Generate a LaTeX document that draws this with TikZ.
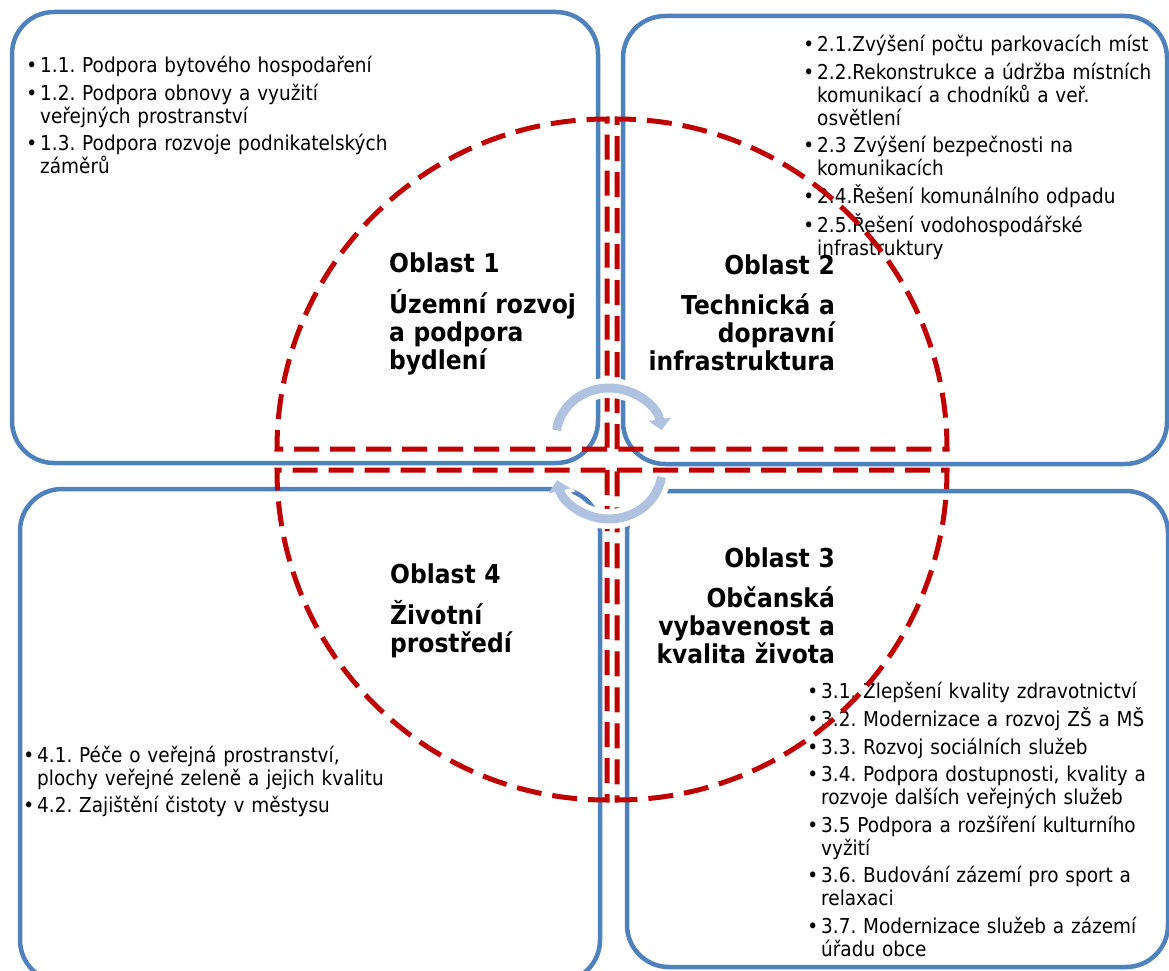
\documentclass[tikz,border=0pt]{standalone}
\usepackage{fontspec}
\setmainfont{DejaVu Sans}[FakeStretch=0.9]
\usetikzlibrary{backgrounds}
\usetikzlibrary{arrows.meta}
\definecolor{frameblue}{HTML}{4F81BD}
\definecolor{piered}{HTML}{C00000}
\definecolor{ringblue}{HTML}{AFC2DF}
\setlength\parindent{0pt}
\frenchspacing
\newcommand\bul{\leavevmode\llap{\textbullet\hspace{3pt}}}

\begin{document}
\begin{tikzpicture}[
    x=1pt, y=-1pt,
    show background rectangle,
    tight background=0,
    background rectangle/.style={fill=white},
    quad/.style={draw=frameblue, line width=4.5pt, rounded corners=42pt},
    pie/.style={draw=piered, line width=5pt, dash pattern=on 25pt off 11pt},
    oblast/.style={inner sep=0pt, text width=260pt,
        font=\bfseries\fontsize{26}{28}\selectfont},
    items/.style={inner sep=0pt, text width=360pt, align=left,
        font=\fontsize{20.5}{23}\selectfont},
 ]
    \useasboundingbox (0,0) rectangle (1169,971);

    % the four quadrants
    \draw[quad] (12,12) rectangle (598,463);
    \draw[quad] (623,16) rectangle (1167,464);
    \draw[quad] (20,489) rectangle (600,982);
    \draw[quad] (627,491) rectangle (1168,967);

    \node[oblast, align=left, anchor=base west] (T1) at (389,272)
        {Oblast 1\\[13pt] Územní rozvoj\\ a podpora\\ bydlení};
    \node[oblast, align=right, anchor=base east] (T2) at (835,274)
        {Oblast 2\\[12pt] Technická a\\ dopravní\\ infrastruktura};
    \node[oblast, align=right, anchor=base east] (T3) at (835,567)
        {Oblast 3\\[12pt] Občanská\\ vybavenost a\\ kvalita života};
    \node[oblast, align=left, anchor=base west] (T4) at (390,583)
        {Oblast 4\\[13pt] Životní\\ prostředí};

    \node[items, anchor=base west] (L1) at (40,73) {%
        \bul 1.1. Podpora bytového hospodaření\\[4.5pt]
        \bul 1.2. Podpora obnovy a využití\\ veřejných prostranství\\[4.5pt]
        \bul 1.3. Podpora rozvoje podnikatelských\\ záměrů};
    \node[items, anchor=base west] (L2) at (817,52) {%
        \bul 2.1.Zvýšení počtu parkovacích míst\\[4.5pt]
        \bul 2.2.Rekonstrukce a údržba místních\\ komunikací a chodníků a veř.\\ osvětlení\\[4.5pt]
        \bul 2.3 Zvýšení bezpečnosti na\\ komunikacích\\[4.5pt]
        \bul 2.4.Řešení komunálního odpadu\\[4.5pt]
        \bul 2.5.Řešení vodohospodářské\\ infrastruktury};
    \node[items, anchor=base west] (L3) at (821,698) {%
        \bul 3.1. Zlepšení kvality zdravotnictví\\[4.5pt]
        \bul 3.2. Modernizace a rozvoj ZŠ a MŠ\\[4.5pt]
        \bul 3.3. Rozvoj sociálních služeb\\[4.5pt]
        \bul 3.4. Podpora dostupnosti, kvality a\\ rozvoje dalších veřejných služeb\\[4.5pt]
        \bul 3.5 Podpora a rozšíření kulturního\\ vyžití\\[4.5pt]
        \bul 3.6. Budování zázemí pro sport a\\ relaxaci\\[4.5pt]
        \bul 3.7. Modernizace služeb a zázemí\\ úřadu obce};
    \node[items, anchor=base west] (L4) at (37,762) {%
        \bul 4.1. Péče o veřejná prostranství,\\ plochy veřejné zeleně a jejich kvalitu\\[4.5pt]
        \bul 4.2. Zajištění čistoty v městysu};

    % dashed quarter pies
    \draw[pie] (607,449) -- (277,449)
        arc[start angle=180, end angle=270, radius=330] -- cycle;
    \draw[pie] (617,449) -- (617,119)
        arc[start angle=270, end angle=360, radius=330] -- cycle;
    \draw[pie] (617,470) -- (947,470)
        arc[start angle=0, end angle=90, radius=330] -- cycle;
    \draw[pie] (607,470) -- (607,800)
        arc[start angle=90, end angle=180, radius=330] -- cycle;

    % circular arrows in the middle
    \draw[white, line width=20pt, -{Triangle[length=15pt, width=30pt]}]
        (609,437) ++(188:53 and 49)
        arc[start angle=188, end angle=352, x radius=53, y radius=49];
    \draw[ringblue, line width=9pt, -{Triangle[length=11pt, width=22pt]}]
        (609,437) ++(188:53 and 49)
        arc[start angle=188, end angle=352, x radius=53, y radius=49];
    \draw[white, line width=20pt, -{Triangle[length=15pt, width=30pt]}]
        (609,470) ++(8:53 and 49)
        arc[start angle=8, end angle=168, x radius=53, y radius=49];
    \draw[ringblue, line width=9pt, -{Triangle[length=11pt, width=22pt]}]
        (609,470) ++(8:53 and 49)
        arc[start angle=8, end angle=168, x radius=53, y radius=49];
\end{tikzpicture}
\end{document}
